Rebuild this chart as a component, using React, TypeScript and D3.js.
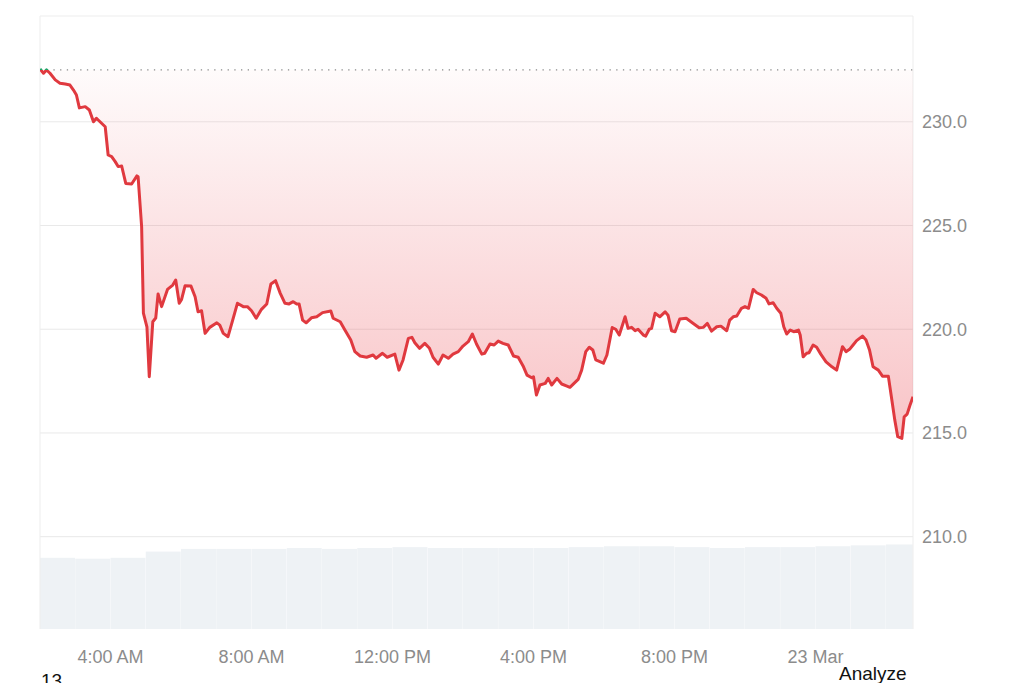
import React, { useEffect, useRef } from 'react';
import * as d3 from 'd3';

// session starts 22 Mar, 02:00 — offsets below are minutes from here
const sessionStart = new Date(2025, 2, 22, 2, 0);
const previousClose = 232.5;
const priceTicks = [210, 215, 220, 225, 230];

const minuteOffsets = [
	0, 6, 11, 17, 26, 34, 43, 51, 57, 62, 67, 77, 84, 91, 96, 111, 116, 122, 128, 133,
	139, 146, 156, 165, 167, 173, 176, 182, 186, 192, 197, 201, 207, 217, 226, 231, 237, 241, 247, 257,
	264, 269, 275, 281, 289, 301, 306, 312, 320, 328, 336, 346, 353, 360, 368, 377, 386, 393, 401, 409,
	417, 424, 431, 437, 441, 447, 453, 462, 471, 481, 495, 499, 511, 519, 529, 536, 545, 556, 567, 572,
	583, 591, 604, 611, 618, 627, 633, 638, 646, 655, 663, 669, 678, 686, 695, 703, 712, 720, 729, 736,
	743, 752, 757, 766, 773, 780, 788, 797, 806, 814, 823, 829, 837, 840, 845, 851, 860, 865, 871, 880,
	888, 897, 902, 909, 916, 922, 929, 935, 941, 946, 953, 959, 965, 974, 980, 986, 996, 1001, 1007, 1013,
	1018, 1027, 1031, 1037, 1041, 1047, 1055, 1064, 1069, 1075, 1081, 1089, 1100, 1112, 1122, 1129, 1136, 1143, 1152, 1159,
	1169, 1174, 1180, 1186, 1194, 1200, 1206, 1214, 1220, 1228, 1236, 1241, 1248, 1254, 1261, 1266, 1271, 1277, 1283, 1291,
	1294, 1299, 1305, 1309, 1316, 1322, 1329, 1338, 1348, 1356, 1366, 1372, 1378, 1384, 1390, 1400, 1406, 1412, 1418, 1427,
	1434, 1444, 1450, 1455, 1460, 1467, 1471, 1476, 1481, 1486,
];

const prices = [
	232.55, 232.34, 232.5, 232.34, 232.02, 231.86, 231.82, 231.77, 231.53, 231.29, 230.67, 230.73, 230.57, 230.0, 230.17, 229.76, 228.4, 228.32, 228.08, 227.84,
	227.87, 227.03, 227.0, 227.39, 227.35, 224.94, 220.78, 220.12, 217.71, 220.36, 220.54, 221.7, 221.09, 221.92, 222.13, 222.37, 221.25, 221.44, 222.1, 222.08,
	221.57, 220.84, 220.89, 219.8, 220.09, 220.31, 220.2, 219.8, 219.64, 220.44, 221.25, 221.09, 221.09, 220.89, 220.53, 220.96, 221.22, 222.18, 222.34, 221.73,
	221.25, 221.22, 221.33, 221.22, 221.22, 220.44, 220.31, 220.55, 220.6, 220.8, 220.88, 220.53, 220.36, 219.96, 219.48, 218.92, 218.71, 218.65, 218.76, 218.6,
	218.84, 218.65, 218.8, 218.03, 218.52, 219.56, 219.61, 219.35, 219.08, 219.32, 219.08, 218.65, 218.32, 218.76, 218.6, 218.8, 218.92, 219.19, 219.4, 219.77,
	219.29, 218.8, 218.84, 219.29, 219.24, 219.43, 219.32, 219.24, 218.71, 218.65, 218.19, 217.79, 217.66, 217.71, 216.83, 217.31, 217.39, 217.63, 217.31, 217.63,
	217.36, 217.26, 217.2, 217.39, 217.58, 218.03, 218.92, 219.13, 219.0, 218.52, 218.44, 218.36, 218.76, 220.08, 220.0, 219.72, 220.6, 220.04, 220.09, 219.93,
	220.0, 219.72, 219.67, 220.0, 220.04, 220.77, 220.6, 220.84, 220.68, 219.93, 219.88, 220.49, 220.53, 220.28, 220.07, 220.09, 220.28, 219.91, 220.12, 220.15,
	219.93, 220.44, 220.6, 220.64, 221.01, 221.09, 221.01, 221.92, 221.76, 221.65, 221.49, 221.22, 221.28, 221.01, 220.77, 220.12, 219.77, 219.96, 219.88, 219.96,
	219.72, 218.67, 218.84, 218.87, 219.24, 219.13, 218.8, 218.43, 218.19, 218.03, 219.16, 218.92, 219.03, 219.24, 219.45, 219.67, 219.48, 219.0, 218.19, 218.03,
	217.74, 217.74, 216.59, 215.62, 214.82, 214.74, 215.78, 215.91, 216.35, 216.75,
];

// one bar per hour, relative volume
const hourlyVolume = [
	80, 79, 80, 87, 90, 90, 90, 91, 90, 91, 92, 91, 91, 91, 91, 92, 93, 93, 92, 91, 92, 92, 93, 94, 95,
];

const W = 1024;
const H = 683;
const margin = { top: 16, right: 111, bottom: 54, left: 40 };

const App: React.FC = () => {
	const ref = useRef<SVGSVGElement>(null);

	useEffect(() => {
		if (!ref.current) return;
		const svg = d3.select(ref.current);
		svg.selectAll('*').remove();

		const x0 = margin.left;
		const x1 = W - margin.right;
		const yTop = margin.top;
		const yBottom = H - margin.bottom;

		const n = Math.min(minuteOffsets.length, prices.length);
		const data = d3.range(n).map((i) => ({
			t: d3.timeMinute.offset(sessionStart, minuteOffsets[i]),
			v: prices[i],
		}));
		const endTime = d3.timeMinute.offset(sessionStart, minuteOffsets[n - 1]);

		const x = d3.scaleTime().domain([sessionStart, endTime]).range([x0, x1]);
		const y = d3.scaleLinear().domain([205.55, 235.1]).range([yBottom, yTop]);
		const vol = d3.scaleLinear().domain([0, 100]).range([yBottom, 540]);

		const font = '"Liberation Sans", Arial, sans-serif';

		// gradient for the area below the previous close
		const defs = svg.append('defs');
		const grad = defs
			.append('linearGradient')
			.attr('id', 'lossFill')
			.attr('gradientUnits', 'userSpaceOnUse')
			.attr('x1', 0)
			.attr('x2', 0)
			.attr('y1', y(previousClose))
			.attr('y2', y(214.5));
		grad.append('stop').attr('offset', 0).attr('stop-color', '#e8353f').attr('stop-opacity', 0.02);
		grad.append('stop').attr('offset', 1).attr('stop-color', '#e8353f').attr('stop-opacity', 0.3);

		defs
			.append('clipPath')
			.attr('id', 'aboveClose')
			.append('rect')
			.attr('x', x0)
			.attr('y', 0)
			.attr('width', x1 - x0)
			.attr('height', y(previousClose));
		defs
			.append('clipPath')
			.attr('id', 'belowClose')
			.append('rect')
			.attr('x', x0)
			.attr('y', y(previousClose))
			.attr('width', x1 - x0)
			.attr('height', H);

		// volume bars
		const hourW = x(d3.timeHour.offset(sessionStart, 1)) - x(sessionStart);
		svg
			.append('g')
			.selectAll('rect')
			.data(hourlyVolume)
			.enter()
			.append('rect')
			.attr('x', (_d, i) => x(d3.timeHour.offset(sessionStart, i)))
			.attr('y', (d) => vol(d))
			.attr('width', (_d, i) =>
				Math.max(0, Math.min(hourW, x1 - x(d3.timeHour.offset(sessionStart, i))) - 0.3),
			)
			.attr('height', (d) => yBottom - vol(d))
			.attr('fill', '#eef2f5');

		// grid
		svg
			.append('g')
			.selectAll('line')
			.data(priceTicks)
			.enter()
			.append('line')
			.attr('x1', x0)
			.attr('x2', x1)
			.attr('y1', (d) => y(d))
			.attr('y2', (d) => y(d))
			.attr('stroke', '#e9e9e9')
			.attr('stroke-width', 1);

		// frame
		svg
			.append('path')
			.attr('d', `M${x0},${yBottom}V${yTop}H${x1}V${yBottom}`)
			.attr('fill', 'none')
			.attr('stroke', '#ededed')
			.attr('stroke-width', 1);

		// area between previous close and price
		const area = d3
			.area<{ t: Date; v: number }>()
			.x((d) => x(d.t))
			.y0(y(previousClose))
			.y1((d) => y(d.v));
		svg
			.append('path')
			.datum(data)
			.attr('d', area)
			.attr('fill', 'url(#lossFill)')
			.attr('clip-path', 'url(#belowClose)');

		// previous close reference
		svg
			.append('line')
			.attr('x1', x0)
			.attr('x2', x1)
			.attr('y1', y(previousClose))
			.attr('y2', y(previousClose))
			.attr('stroke', '#8a8a8a')
			.attr('stroke-width', 1.3)
			.attr('stroke-dasharray', '1.3 5.4');

		const line = d3
			.line<{ t: Date; v: number }>()
			.x((d) => x(d.t))
			.y((d) => y(d.v));
		svg
			.append('path')
			.datum(data)
			.attr('d', line)
			.attr('fill', 'none')
			.attr('stroke', '#e0393f')
			.attr('stroke-width', 3)
			.attr('stroke-linejoin', 'round')
			.attr('clip-path', 'url(#belowClose)');
		svg
			.append('path')
			.datum(data)
			.attr('d', line)
			.attr('fill', 'none')
			.attr('stroke', '#21a366')
			.attr('stroke-width', 3)
			.attr('stroke-linejoin', 'round')
			.attr('clip-path', 'url(#aboveClose)');

		// y labels
		svg
			.append('g')
			.selectAll('text')
			.data(priceTicks)
			.enter()
			.append('text')
			.attr('x', x1 + 9)
			.attr('y', (d) => y(d))
			.attr('dy', '0.36em')
			.attr('font-family', font)
			.attr('font-size', 18)
			.attr('fill', '#8c8c8c')
			.text((d) => d.toFixed(1));

		// x labels
		const fmtTick = (d: Date) =>
			d.getHours() === 0 ? d3.timeFormat('%-d %b')(d) : d3.timeFormat('%-I:%M %p')(d);
		svg
			.append('g')
			.selectAll('text')
			.data(x.ticks(d3.timeHour.every(4)!))
			.enter()
			.append('text')
			.attr('x', (d) => x(d))
			.attr('y', 663)
			.attr('text-anchor', 'middle')
			.attr('font-family', font)
			.attr('font-size', 18)
			.attr('fill', '#8c8c8c')
			.text(fmtTick);

		// page text around the chart
		svg
			.append('text')
			.attr('x', 839)
			.attr('y', 680)
			.attr('font-family', font)
			.attr('font-size', 19)
			.attr('fill', '#111')
			.text('Analyze');
		svg
			.append('text')
			.attr('x', 41)
			.attr('y', 687)
			.attr('font-family', font)
			.attr('font-size', 19)
			.attr('fill', '#111')
			.text('13');
	}, []);

	return (
		<div style={{ position: 'absolute', left: 0, top: 0, width: W, height: H, background: '#fff' }}>
			<svg ref={ref} width={W} height={H} style={{ display: 'block' }}></svg>
		</div>
	);
};

export default App;
